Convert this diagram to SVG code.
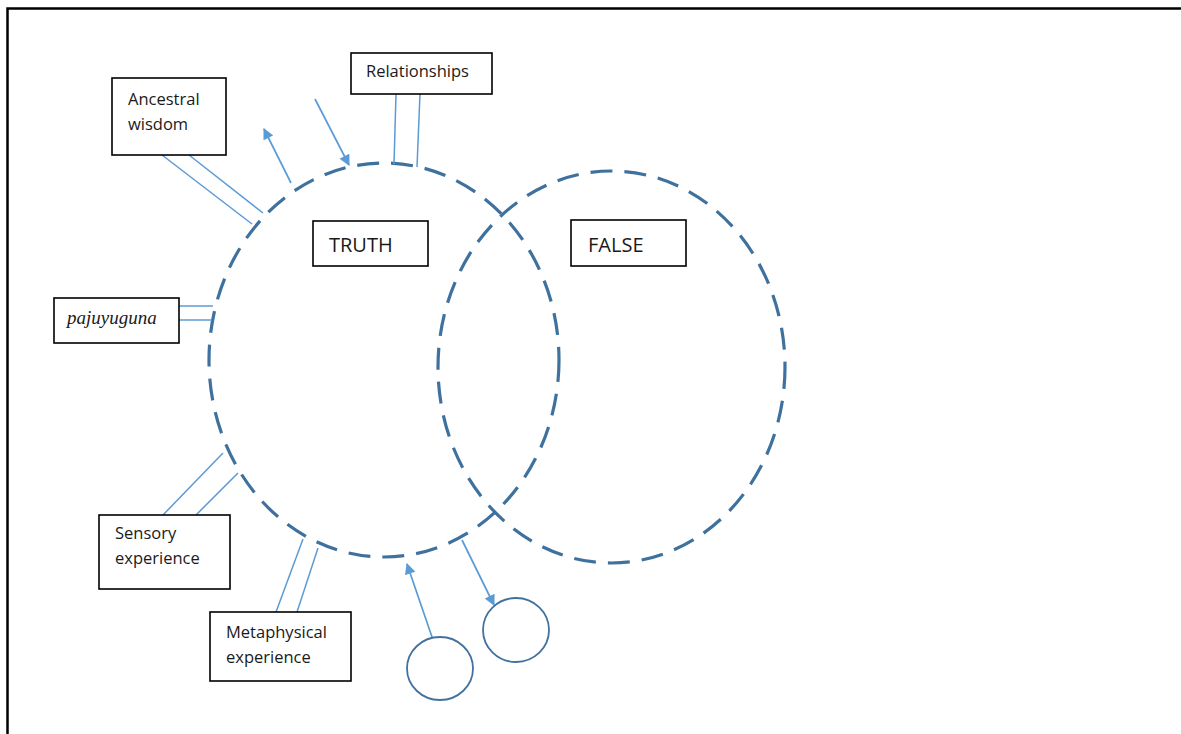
<svg xmlns="http://www.w3.org/2000/svg" width="1181" height="734" viewBox="0 0 1181 734">
  <style>
    .box { fill: #ffffff; stroke: #000000; stroke-width: 1.6; }
    .lbl { font-family: "Open Sans", "Liberation Sans", sans-serif; font-size: 16.5px; fill: #1a1a1a; }
    .big { font-family: "Open Sans", "Liberation Sans", sans-serif; font-size: 20px; fill: #1a1a1a; }
    .ital { font-family: "Liberation Serif", "DejaVu Serif", serif; font-style: italic; font-size: 19px; fill: #1a1a1a; }
    .set { fill: none; stroke: #3f719e; stroke-width: 3.2; stroke-dasharray: 22 12; }
    .link { fill: none; stroke: #5b9bd5; stroke-width: 1.5; }
    .arrow { fill: none; stroke: #5b9bd5; stroke-width: 1.7; marker-end: url(#head); }
    .bubble { fill: #ffffff; stroke: #41719c; stroke-width: 1.8; }
  </style>
  <defs>
    <marker id="head" viewBox="0 0 10 10" refX="9" refY="5" markerWidth="12" markerHeight="11" markerUnits="userSpaceOnUse" orient="auto">
      <path d="M0,0 L10,5 L0,10 z" fill="#5b9bd5"/>
    </marker>
  </defs>

  <rect width="1181" height="734" fill="#ffffff"/>
  <!-- page frame -->
  <path d="M7.5,734 V8.5 H1181" fill="none" stroke="#000000" stroke-width="2.5"/>

  <!-- overlapping sets -->
  <g id="set-truth">
    <ellipse class="set" cx="384" cy="360" rx="175" ry="197"/>
  </g>
  <g id="set-false">
    <ellipse class="set" cx="611.5" cy="367" rx="173.5" ry="196"/>
  </g>

  <!-- connectors -->
  <g id="connectors">
    <line class="link" x1="162" y1="155" x2="252" y2="224"/>
    <line class="link" x1="189" y1="155" x2="263" y2="213"/>
    <line class="link" x1="396" y1="94" x2="394" y2="164"/>
    <line class="link" x1="420" y1="94" x2="417" y2="167"/>
    <line class="link" x1="179" y1="306" x2="213" y2="306"/>
    <line class="link" x1="179" y1="320" x2="212" y2="320"/>
    <line class="link" x1="163" y1="515" x2="223" y2="453"/>
    <line class="link" x1="196" y1="515" x2="238" y2="473"/>
    <line class="link" x1="276" y1="612" x2="303" y2="539"/>
    <line class="link" x1="297" y1="612" x2="318" y2="548"/>
    <line class="arrow" x1="291" y1="183" x2="264" y2="129"/>
    <line class="arrow" x1="315" y1="99" x2="349" y2="165"/>
    <line class="arrow" x1="432" y1="637" x2="407" y2="564"/>
    <line class="arrow" x1="462" y1="540" x2="494" y2="605"/>
  </g>

  <g id="node-ancestral">
    <rect class="box" x="112" y="78" width="114" height="77"/>
    <text class="lbl" x="128" y="105">Ancestral</text>
    <text class="lbl" x="128" y="130">wisdom</text>
  </g>
  <g id="node-relationships">
    <rect class="box" x="351" y="53" width="141" height="41"/>
    <text class="lbl" x="366" y="77">Relationships</text>
  </g>
  <g id="node-truth">
    <rect class="box" x="313" y="221" width="115" height="45"/>
    <text class="big" x="329" y="252">TRUTH</text>
  </g>
  <g id="node-false">
    <rect class="box" x="571" y="220" width="115" height="46"/>
    <text class="big" x="588" y="252">FALSE</text>
  </g>
  <g id="node-pajuyuguna">
    <rect class="box" x="54" y="298" width="125" height="45"/>
    <text class="ital" x="67" y="324">pajuyuguna</text>
  </g>
  <g id="node-sensory">
    <rect class="box" x="99" y="515" width="131" height="74"/>
    <text class="lbl" x="115" y="539">Sensory</text>
    <text class="lbl" x="115" y="564">experience</text>
  </g>
  <g id="node-metaphysical">
    <rect class="box" x="210" y="612" width="141" height="69"/>
    <text class="lbl" x="226" y="638">Metaphysical</text>
    <text class="lbl" x="226" y="663">experience</text>
  </g>
  <g id="node-bubble-in">
    <ellipse class="bubble" cx="440" cy="668.5" rx="33" ry="31.5"/>
  </g>
  <g id="node-bubble-out">
    <ellipse class="bubble" cx="516" cy="630" rx="33" ry="32"/>
  </g>
</svg>
